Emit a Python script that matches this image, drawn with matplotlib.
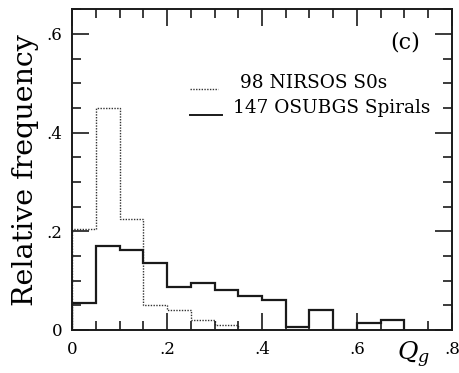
import matplotlib
matplotlib.use("Agg")
import matplotlib.pyplot as plt
from matplotlib.ticker import MultipleLocator, FixedFormatter, FixedLocator
import numpy as np

# Data (relative frequencies, bin width 0.05)
s0_edges = [0.0, 0.05, 0.10, 0.15, 0.20, 0.25, 0.30, 0.35]
s0_freq = [0.204, 0.449, 0.224, 0.051, 0.041, 0.020, 0.010]

sp_edges = [0.0, 0.05, 0.10, 0.15, 0.20, 0.25, 0.30, 0.35, 0.40, 0.45,
            0.50, 0.55, 0.60, 0.65, 0.70]
sp_freq = [0.054, 0.170, 0.163, 0.136, 0.088, 0.095, 0.082, 0.068, 0.061,
           0.007, 0.041, 0.0, 0.014, 0.020]

x_ticks = [0.0, 0.2, 0.4, 0.6, 0.8]
x_ticklabels = ["0", ".2", ".4", ".6", ".8"]
y_ticks = [0.0, 0.2, 0.4, 0.6]
y_ticklabels = ["0", ".2", ".4", ".6"]

legend_labels = ["98 NIRSOS S0s", "147 OSUBGS Spirals"]

plt.rcParams['font.family'] = ['DejaVu Serif']
plt.rcParams['mathtext.fontset'] = 'dejavuserif'

fig = plt.figure(figsize=(4.59, 3.73), dpi=100)
ax = fig.add_axes([0.1569, 0.1153, 0.8278, 0.8597])

ax.stairs(s0_freq, s0_edges, color='#333333', lw=1.0, linestyle=(0, (1, 1)))
ax.stairs(sp_freq, sp_edges, color='#1a1a1a', lw=1.6)

ax.set_xlim(0, 0.8)
ax.set_ylim(0, 0.65)

ax.xaxis.set_major_locator(FixedLocator(x_ticks))
ax.xaxis.set_major_formatter(FixedFormatter(x_ticklabels))
ax.yaxis.set_major_locator(FixedLocator(y_ticks))
ax.yaxis.set_major_formatter(FixedFormatter(y_ticklabels))
ax.xaxis.set_minor_locator(MultipleLocator(0.05))
ax.yaxis.set_minor_locator(MultipleLocator(0.05))

ax.tick_params(which='both', direction='in', top=True, right=True,
               width=1.2, color='#1a1a1a')
ax.tick_params(which='major', length=12)
ax.tick_params(which='minor', length=6.5)
ax.tick_params(axis='x', which='major', pad=8, labelsize=12)
ax.tick_params(axis='y', which='major', pad=7, labelsize=12)

for sp in ax.spines.values():
    sp.set_linewidth(1.4)
    sp.set_color('#1a1a1a')

ax.set_ylabel("Relative frequency", fontsize=20.5)
ax.yaxis.set_label_coords(-0.088, 0.5)

ax.text(0.718, -0.078, r"$Q_g$", transform=ax.get_xaxis_transform(),
        fontsize=18, ha='center', va='center')

ax.text(0.878, 0.895, "(c)", transform=ax.transAxes, fontsize=16,
        ha='center', va='center')

# Legend drawn manually
def ax_x(px):
    return (px - 72) / 380.0

def ax_y(py):
    return (330 - py) / 320.7

ax.plot([ax_x(190), ax_x(218)], [ax_y(89), ax_y(89)], transform=ax.transAxes,
        color='#333333', lw=1.0, linestyle=(0, (1, 1)))
ax.text(ax_x(240), ax_y(83), legend_labels[0], transform=ax.transAxes,
        fontsize=13.3, ha='left', va='center')
ax.plot([ax_x(190), ax_x(222)], [ax_y(115), ax_y(115)], transform=ax.transAxes,
        color='#1a1a1a', lw=1.4)
ax.text(ax_x(233), ax_y(108), legend_labels[1], transform=ax.transAxes,
        fontsize=13.3, ha='left', va='center')

fig.savefig("out.png", dpi=100)
